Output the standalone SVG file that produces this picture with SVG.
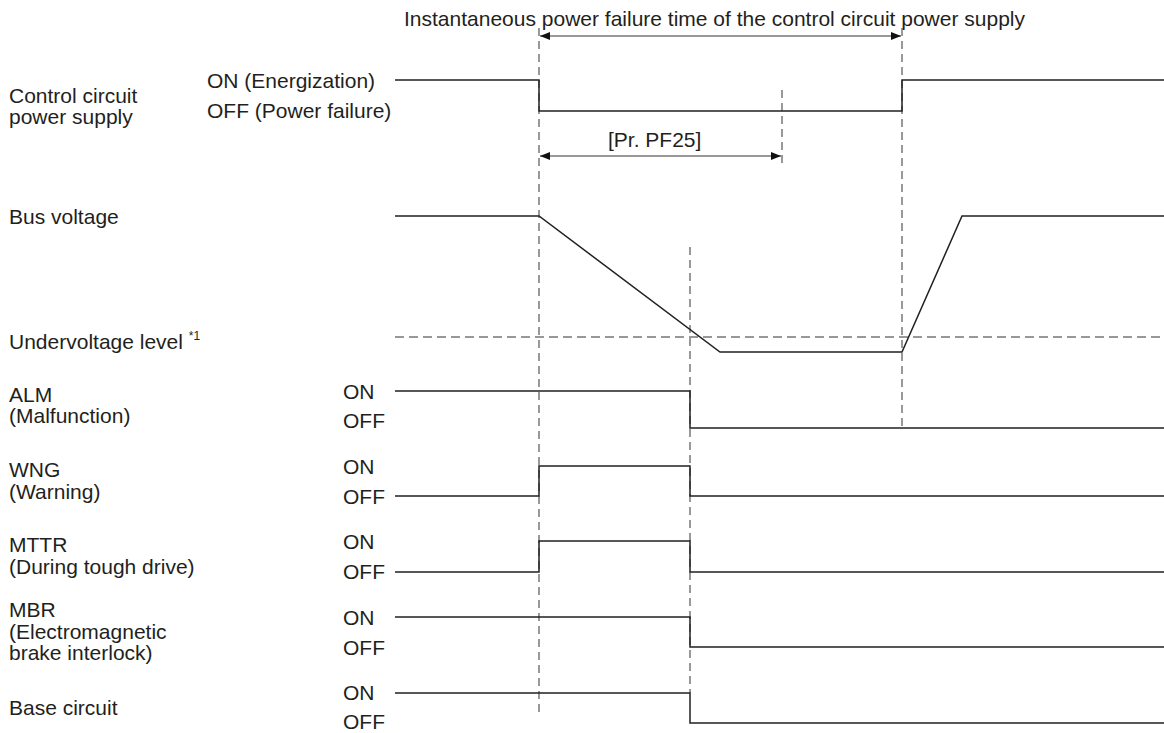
<svg xmlns="http://www.w3.org/2000/svg" width="1164" height="733" viewBox="0 0 1164 733">
<style>
text{font-family:"Liberation Sans",Arial,sans-serif;font-size:21px;fill:#231f20}
.sig{fill:none;stroke:#231f20;stroke-width:1.5}
.guide{fill:none;stroke:#555;stroke-width:1.2;stroke-dasharray:8 5}
.hdash{fill:none;stroke:#333;stroke-width:1.2;stroke-dasharray:9 5}
.dim{fill:none;stroke:#333;stroke-width:1.2}
.sup{font-size:12px}
</style>
<defs>
<marker id="ah" viewBox="0 0 10 8" refX="10" refY="4" markerWidth="10" markerHeight="8" markerUnits="userSpaceOnUse" orient="auto-start-reverse">
<path d="M0,0 L10,4 L0,8 Z" fill="#111"/>
</marker>
</defs>
<rect width="1164" height="733" fill="#fff"/>

<g id="connectors">
<path class="guide" d="M539,28 V715"/>
<path class="guide" d="M902,28 V428"/>
<path class="guide" d="M782,90 V163"/>
<path class="guide" d="M690,247 V693"/>
<path class="hdash" d="M395,337 H1164"/>
<path class="dim" d="M540,36 H901" marker-start="url(#ah)" marker-end="url(#ah)"/>
<path class="dim" d="M540,156 H781" marker-start="url(#ah)" marker-end="url(#ah)"/>
</g>

<g id="title">
<text x="404" y="26">Instantaneous power failure time of the control circuit power supply</text>
<text x="608" y="147">[Pr. PF25]</text>
</g>

<g id="control-circuit">
<text x="9" y="103">Control circuit</text>
<text x="9" y="124">power supply</text>
<text x="207" y="88">ON (Energization)</text>
<text x="207" y="118">OFF (Power failure)</text>
<path class="sig" d="M395,80 H539 V111 H902 V80 H1164"/>
</g>

<g id="bus-voltage">
<text x="9" y="224">Bus voltage</text>
<text x="9" y="349">Undervoltage level <tspan class="sup" dy="-9">*1</tspan></text>
<path class="sig" d="M395,216 H539 L720,352 H902 L962,216 H1164"/>
</g>

<g id="alm">
<text x="9" y="402">ALM</text>
<text x="9" y="423">(Malfunction)</text>
<text x="343" y="399">ON</text>
<text x="343" y="428">OFF</text>
<path class="sig" d="M395,391 H690 V428 H1164"/>
</g>

<g id="wng">
<text x="9" y="477">WNG</text>
<text x="9" y="499">(Warning)</text>
<text x="343" y="474">ON</text>
<text x="343" y="504">OFF</text>
<path class="sig" d="M395,496 H539 V466 H690 V496 H1164"/>
</g>

<g id="mttr">
<text x="9" y="552">MTTR</text>
<text x="9" y="574">(During tough drive)</text>
<text x="343" y="549">ON</text>
<text x="343" y="579">OFF</text>
<path class="sig" d="M395,572 H539 V541 H690 V572 H1164"/>
</g>

<g id="mbr">
<text x="9" y="617">MBR</text>
<text x="9" y="639">(Electromagnetic</text>
<text x="9" y="660">brake interlock)</text>
<text x="343" y="625">ON</text>
<text x="343" y="655">OFF</text>
<path class="sig" d="M395,617 H690 V647 H1164"/>
</g>

<g id="base-circuit">
<text x="9" y="715">Base circuit</text>
<text x="343" y="700">ON</text>
<text x="343" y="729">OFF</text>
<path class="sig" d="M395,693 H690 V723 H1164"/>
</g>
</svg>
